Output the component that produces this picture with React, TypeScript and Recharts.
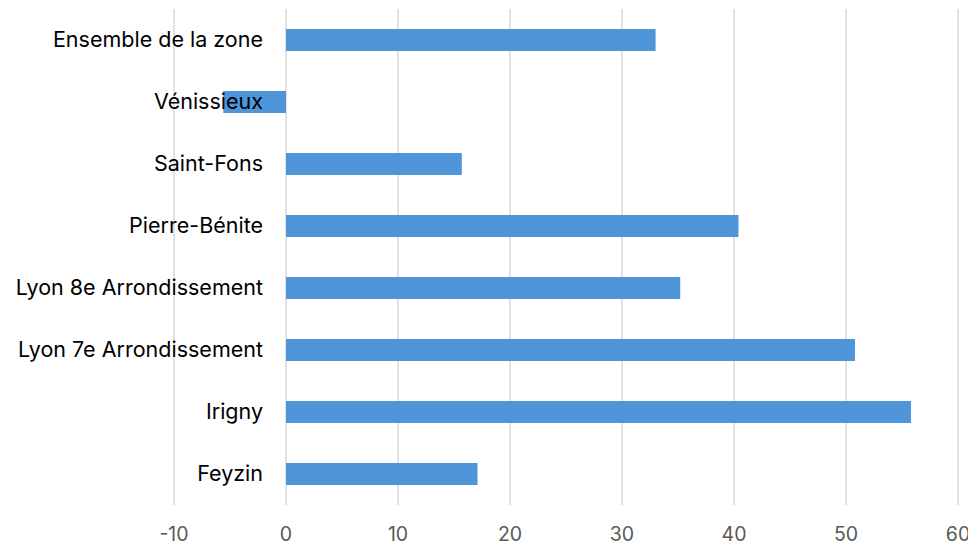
import { BarChart, Bar, XAxis, YAxis, CartesianGrid } from "recharts"

const communes = [
  "Ensemble de la zone",
  "Vénissieux",
  "Saint-Fons",
  "Pierre-Bénite",
  "Lyon 8e Arrondissement",
  "Lyon 7e Arrondissement",
  "Irigny",
  "Feyzin",
]
const valeurs = [33.0, -5.6, 15.7, 40.4, 35.2, 50.8, 55.8, 17.1]
const xTicks = [-10, 0, 10, 20, 30, 40, 50, 60]

const data = communes.map((name, i) => ({ name, value: valeurs[i] }))

const W = 968
const H = 546
const LEFT = 174
const RIGHT = 10
const DOMAIN: [number, number] = [-10, 60]
// labels sit next to the zero line, like the original
const zeroX = LEFT + ((W - LEFT - RIGHT) * (0 - DOMAIN[0])) / (DOMAIN[1] - DOMAIN[0])

const font = "Inter, 'Open Sans', sans-serif"

function CategoryTick(props: any) {
  const { y, payload } = props
  return (
    <text
      x={zeroX - 23}
      y={y}
      dy={7}
      textAnchor="end"
      fill="#000"
      fontSize={21.5}
      fontFamily={font}
    >
      {payload.value}
    </text>
  )
}

export default function App() {
  return (
    <div style={{ position: "absolute", left: 0, top: 0, background: "#fff" }}>
      <BarChart
        width={W}
        height={H}
        data={data}
        layout="vertical"
        margin={{ top: 9, right: RIGHT, bottom: 0, left: 0 }}
        barSize={22}
      >
        <CartesianGrid horizontal={false} stroke="#d9d9d9" strokeWidth={1.5} />
        <XAxis
          type="number"
          domain={DOMAIN}
          ticks={xTicks}
          axisLine={false}
          tickLine={false}
          height={41}
          tick={{ fill: "#595959", fontSize: 19.5, fontFamily: font }}
          tickMargin={16}
          interval={0}
        />
        <Bar dataKey="value" fill="#4e95d9" isAnimationActive={false} />
        <YAxis
          type="category"
          dataKey="name"
          width={LEFT}
          axisLine={false}
          tickLine={false}
          tick={<CategoryTick />}
          interval={0}
        />
      </BarChart>
    </div>
  )
}
